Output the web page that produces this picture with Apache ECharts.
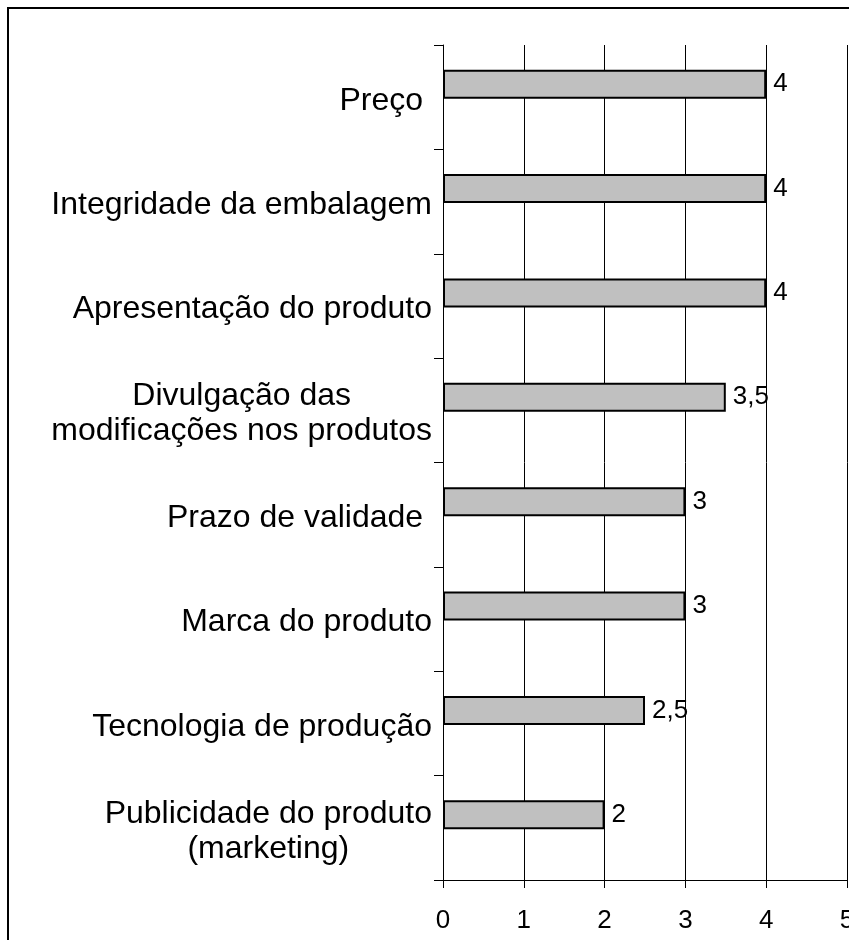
<!DOCTYPE html>
<html>
<head>
<meta charset="utf-8">
<title>Fatores</title>
<script src="https://cdn.jsdelivr.net/npm/echarts@6/dist/echarts.min.js"></script>
<style>
  html, body { margin: 0; padding: 0; background: #fff; }
  #chart { width: 849px; height: 940px; }
</style>
</head>
<body>
<div id="chart"></div>
<script>
  // categorias de cima para baixo
  var categorias = [
    'Preço ',
    'Integridade da embalagem',
    'Apresentação do produto',
    'Divulgação das\nmodificações nos produtos',
    'Prazo de validade ',
    'Marca do produto',
    'Tecnologia de produção',
    'Publicidade do produto\n(marketing)'
  ]
  var valores = [4, 4, 4, 3.5, 3, 3, 2.5, 2]
  var vazio = [null, null, null, null, null, null, null, null]
  var eixoMin = 0
  var eixoMax = 5
  var eixoIntervalo = 1

  var fonte = 'Liberation Sans, Arial, sans-serif'

  var chart = echarts.init(document.getElementById('chart'))
  chart.setOption({
    animation: false,
    backgroundColor: '#fff',
    graphic: [{
      type: 'rect',
      shape: { x: 8, y: 8, width: 900, height: 1000 },
      style: { fill: 'none', stroke: '#000', lineWidth: 2 },
      silent: true
    }],
    grid: { left: 443, right: 2, top: 45, bottom: 60, outerBoundsMode: 'none', containLabel: false },
    xAxis: {
      type: 'value',
      min: eixoMin,
      max: eixoMax,
      interval: eixoIntervalo,
      axisLine: { show: true, lineStyle: { color: '#000', width: 1 } },
      axisTick: { show: true, length: 8, lineStyle: { color: '#000' } },
      axisLabel: { color: '#000', fontFamily: fonte, fontSize: 26, margin: 28, hideOverlap: false },
      splitLine: { show: true, lineStyle: { color: '#000', width: 1 } }
    },
    yAxis: {
      type: 'category',
      inverse: true,
      data: categorias,
      axisLine: { show: true, lineStyle: { color: '#000', width: 1 } },
      axisTick: { show: true, length: 9, lineStyle: { color: '#000' } },
      axisLabel: {
        color: '#000',
        fontFamily: fonte,
        fontSize: 32,
        margin: 11,
        padding: [7, 0, 0, 0],
        formatter: function (v) {
          return v.split('\n').map(function (l) { return '{c|' + l + '}' }).join('\n')
        },
        rich: {
          c: { align: 'center', fontFamily: fonte, fontSize: 32, lineHeight: 35, color: '#000' }
        }
      }
    },
    series: [
      {
        type: 'bar',
        data: valores,
        barWidth: 29,
        barGap: '-10%',
        itemStyle: { color: '#c0c0c0', borderColor: '#000', borderWidth: 2 },
        label: {
          show: true,
          position: 'right',
          distance: 7,
          color: '#000',
          fontFamily: fonte,
          fontSize: 26,
          formatter: function (p) { return String(p.value).replace('.', ',') }
        }
      },
      {
        // série vazia, só para deslocar as barras para cima como no original
        type: 'bar',
        data: vazio,
        barWidth: 29,
        silent: true
      }
    ]
  })
</script>
</body>
</html>
